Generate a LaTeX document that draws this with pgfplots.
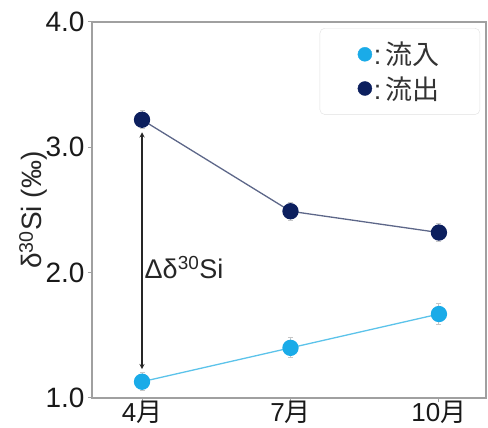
\documentclass[border=0pt]{standalone}
\usepackage{fontspec}
\setmainfont{Liberation Sans}
\newfontfamily\cjk{Noto Sans CJK JP}
\usepackage{pgfplots}
\pgfplotsset{compat=1.18}
\definecolor{inflow}{HTML}{1AABE8}
\definecolor{outflow}{HTML}{0C1F5E}
\definecolor{inline}{HTML}{5CC3EA}
\definecolor{outline}{HTML}{5D6789}
\definecolor{spine}{HTML}{A0A0A0}
\begin{document}
\begin{tikzpicture}
\useasboundingbox (-92pt,-30pt) rectangle (396pt,398pt);
\begin{axis}[
  at={(0,0)}, anchor=south west,
  scale only axis, width=394pt, height=376pt,
  xmin=-0.337, xmax=2.317, ymin=1, ymax=4,
  xtick={0,1,2}, xticklabels={4{\cjk 月},7{\cjk 月},10{\cjk 月}},
  ytick={1,2,3,4},
  yticklabel style={/pgf/number format/.cd, fixed, fixed zerofill, precision=1},
  /pgf/number format/assume math mode=true,
  tick label style={font=\fontsize{28}{30}\selectfont, text=black!90},
  xticklabel style={font=\fontsize{26}{28}\selectfont, inner sep=0pt, anchor=north, yshift=1.5pt},
  axis line style={spine, line width=1.2pt},
  tick style={spine, line width=1pt},
  tick align=outside, major tick length=4pt,
  xtick pos=bottom, ytick pos=left,
  ylabel={δ\textsuperscript{30}Si (‰)},
  ylabel style={font=\fontsize{28}{30}\selectfont, text=black!85},
  ylabel shift=-9pt,
  legend style={at={(0.985,0.984)}, anchor=north east, draw=black!12, rounded corners=5pt,
    font=\fontsize{27}{29}\selectfont, inner xsep=38pt, inner ysep=12pt, row sep=6pt,
    text=black!80},
  legend cell align=left,
  error bars/error bar style={black!22, line width=1pt},
  error bars/error mark options={rotate=90, mark size=2.5pt, black!22, line width=1pt},
]
\addlegendimage{only marks, mark=*, mark size=7pt, color=inflow}
\addlegendentry{:\,{\cjk 流入}}
\addlegendimage{only marks, mark=*, mark size=7pt, color=outflow}
\addlegendentry{:\,{\cjk 流出}}
\addplot[color=inline, line width=1.3pt, mark=*, mark size=7.5pt,
  mark options={fill=inflow, draw=inflow}, forget plot,
  error bars/.cd, y dir=both, y explicit]
  coordinates {(0,1.13) +- (0,0.07) (1,1.40) +- (0,0.08) (2,1.67) +- (0,0.08)};
\addplot[color=outline, line width=1.3pt, mark=*, mark size=7.5pt,
  mark options={fill=outflow, draw=outflow}, forget plot,
  error bars/.cd, y dir=both, y explicit]
  coordinates {(0,3.22) +- (0,0.07) (1,2.49) +- (0,0.07) (2,2.32) +- (0,0.07)};
\draw[<->, >=stealth, line width=1.3pt, black!85] (axis cs:0,3.12) -- (axis cs:0,1.23);
\node[anchor=west, font=\fontsize{27}{29}\selectfont, text=black!85, inner sep=1pt] at (axis cs:0.01,2.04) {Δδ\textsuperscript{30}Si};
\end{axis}
\end{tikzpicture}
\end{document}
